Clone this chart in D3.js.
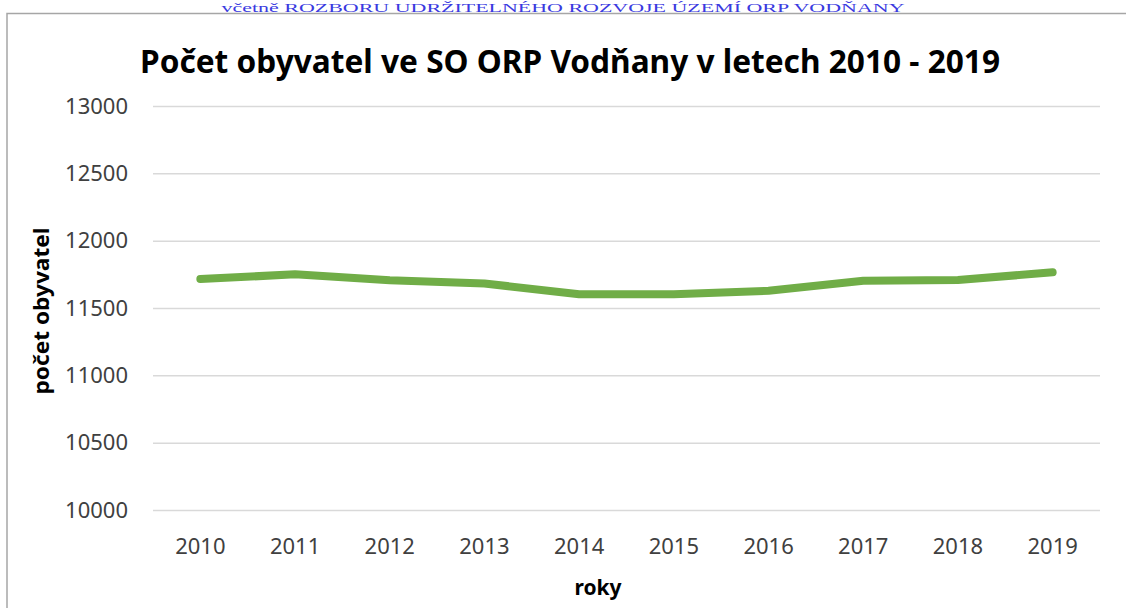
<!DOCTYPE html>
<html>
<head>
<meta charset="utf-8">
<script src="https://cdn.jsdelivr.net/npm/d3@7"></script>
<style>
  body { margin: 0; background: #fff; }
  svg { display: block; }
</style>
</head>
<body>
<div id="chart"></div>
<script>
const years = ["2010", "2011", "2012", "2013", "2014", "2015", "2016", "2017", "2018", "2019"]
const population = [11715, 11750, 11706, 11682, 11602, 11602, 11628, 11703, 11708, 11765]
const yTicks = [10000, 10500, 11000, 11500, 12000, 12500, 13000]

const titleText = "Počet obyvatel ve SO ORP Vodňany v letech 2010 - 2019"
const headerText = "včetně ROZBORU UDRŽITELNÉHO ROZVOJE ÚZEMÍ ORP VODŇANY"
const xTitle = "roky"
const yTitle = "počet obyvatel"

let dimensions = {
    width: 1126,
    height: 608,
    margin: {top: 106, right: 26, bottom: 98, left: 153},
}

const wrapper = d3.select("#chart")
    .append("svg")
    .attr("width", dimensions.width)
    .attr("height", dimensions.height)

// page header text above the chart frame
wrapper.append("text")
    .attr("x", 563)
    .attr("y", 12)
    .attr("text-anchor", "middle")
    .attr("font-family", "Liberation Serif, serif")
    .attr("font-size", 13.5)
    .attr("fill", "#3a3adf")
    .attr("textLength", 683)
    .attr("lengthAdjust", "spacingAndGlyphs")
    .text(headerText)

// chart frame (left and top edges only visible)
wrapper.append("path")
    .attr("d", "M7,608 V13.5 H1126")
    .attr("fill", "none")
    .attr("stroke", "#a6a6a6")
    .attr("stroke-width", 1.5)

const xScale = d3.scaleBand()
    .domain(years)
    .range([dimensions.margin.left, dimensions.width - dimensions.margin.right])
const yScale = d3.scaleLinear()
    .domain([10000, 13000])
    .range([dimensions.height - dimensions.margin.bottom, dimensions.margin.top])

const bounds = wrapper.append("g")

// gridlines + y labels
const yAxis = bounds.append("g")
    .attr("transform", "translate(" + dimensions.margin.left + ",0)")
    .call(d3.axisLeft(yScale)
        .tickValues(yTicks)
        .tickFormat(d3.format("d"))
        .tickSize(-(dimensions.width - dimensions.margin.left - dimensions.margin.right))
        .tickPadding(25))
yAxis.select(".domain").remove()
yAxis.selectAll(".tick line")
    .attr("stroke", "#d9d9d9")
    .attr("stroke-width", 1.5)
yAxis.selectAll(".tick text")
    .attr("font-family", "Noto Sans, sans-serif")
    .attr("font-size", 22)
    .attr("fill", "#404040")

// x labels
const xAxis = bounds.append("g")
    .attr("transform", "translate(0," + (dimensions.height - dimensions.margin.bottom) + ")")
    .call(d3.axisBottom(xScale).tickSize(0).tickPadding(28))
xAxis.select(".domain").remove()
xAxis.selectAll(".tick text")
    .attr("font-family", "Noto Sans, sans-serif")
    .attr("font-size", 22)
    .attr("fill", "#404040")

const lineGenerator = d3.line()
    .x((d, i) => xScale(years[i]) + xScale.bandwidth() / 2)
    .y(d => yScale(d))

bounds.append("path")
    .attr("d", lineGenerator(population))
    .attr("fill", "none")
    .attr("stroke", "#70ad47")
    .attr("stroke-width", 8)
    .attr("stroke-linecap", "round")
    .attr("stroke-linejoin", "round")

// titles
wrapper.append("text")
    .attr("x", 570)
    .attr("y", 73)
    .attr("text-anchor", "middle")
    .attr("font-family", "Noto Sans, sans-serif")
    .attr("font-weight", "bold")
    .attr("font-size", 33)
    .attr("fill", "#000")
    .attr("textLength", 860)
    .attr("lengthAdjust", "spacingAndGlyphs")
    .text(titleText)

wrapper.append("text")
    .attr("x", 598)
    .attr("y", 595)
    .attr("text-anchor", "middle")
    .attr("font-family", "Noto Sans, sans-serif")
    .attr("font-weight", "bold")
    .attr("font-size", 21)
    .attr("fill", "#000")
    .text(xTitle)

wrapper.append("text")
    .attr("transform", "translate(49,311) rotate(-90)")
    .attr("text-anchor", "middle")
    .attr("font-family", "Noto Sans, sans-serif")
    .attr("font-weight", "bold")
    .attr("font-size", 21)
    .attr("fill", "#000")
    .attr("textLength", 167)
    .attr("lengthAdjust", "spacingAndGlyphs")
    .text(yTitle)
</script>
</body>
</html>
